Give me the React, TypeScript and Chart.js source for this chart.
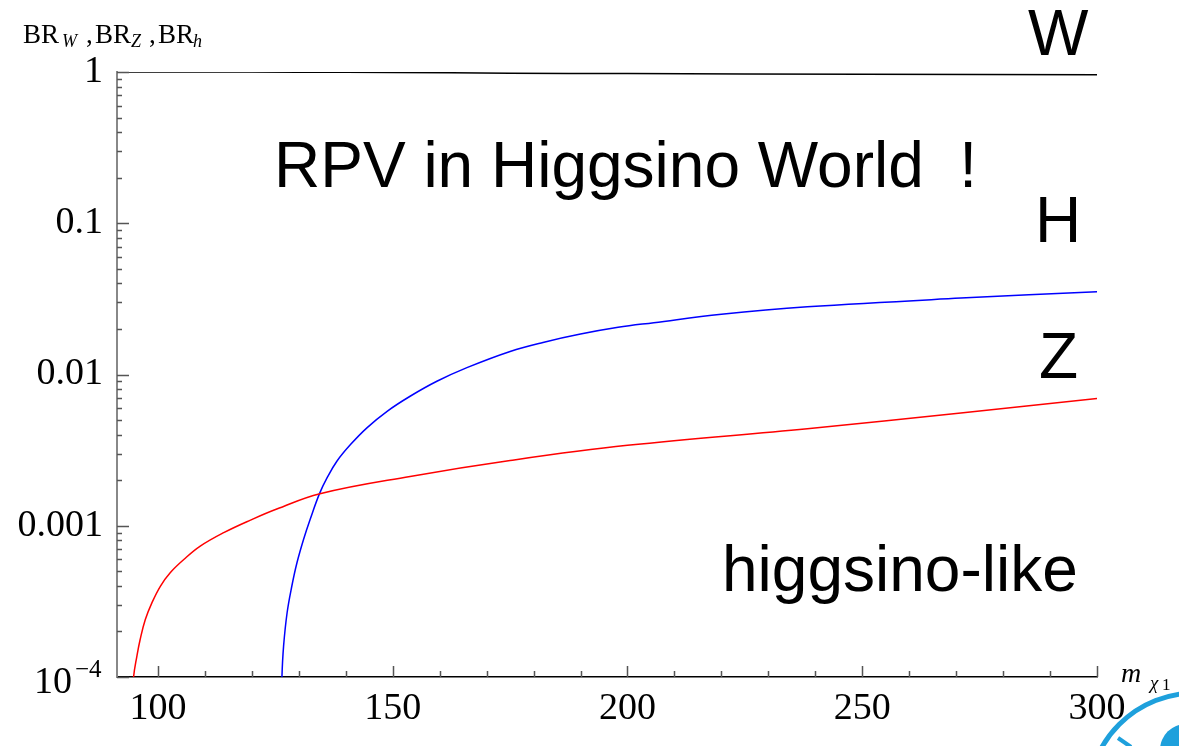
import { useEffect, useRef } from 'react';
import { Chart, registerables } from 'chart.js';

Chart.register(...registerables);

// ---- data ----
const zMass = [93.5, 94.8, 95.5, 96.2, 97.3, 98.7, 100.5, 102.6, 105.5, 109.0, 114.0, 119.7, 125.3, 134.5, 153.7, 175.0, 200.0, 238.3, 271.0, 300.0];
const zBR = [3.0e-5, 1.0e-4, 1.37e-4, 1.77e-4, 2.4e-4, 3.09e-4, 3.98e-4, 4.89e-4, 5.98e-4, 7.33e-4, 9.0e-4, 1.09e-3, 1.29e-3, 1.63e-3, 2.12e-3, 2.7e-3, 3.4e-3, 4.38e-3, 5.56e-3, 6.94e-3];

const hMass = [126.0, 126.4, 126.75, 127.5, 128.5, 129.6, 131.0, 132.4, 134.4, 136.0, 138.1, 141.0, 144.5, 148.8, 153.7, 159.4, 165.8, 175.0, 182.0, 190.0, 198.0, 205.6, 220.0, 238.3, 271.0, 300.0];
const hBR = [3.0e-5, 1.0e-4, 1.6e-4, 2.66e-4, 3.98e-4, 5.69e-4, 8.11e-4, 1.1e-3, 1.63e-3, 2.07e-3, 2.67e-3, 3.44e-3, 4.44e-3, 5.71e-3, 7.18e-3, 9.02e-3, 1.11e-2, 1.42e-2, 1.63e-2, 1.85e-2, 2.05e-2, 2.2e-2, 2.5e-2, 2.8e-2, 3.2e-2, 3.53e-2];

const wMass = [91.3, 110, 130, 150, 175, 200, 250, 300];
const wBR = [1.0, 0.9995, 0.998, 0.991, 0.983, 0.976, 0.966, 0.958];

const xMajorTicks = [100, 150, 200, 250, 300];
const xMinorTicks = [110, 120, 130, 140, 160, 170, 180, 190, 210, 220, 230, 240, 260, 270, 280, 290];
const yMajorTicks = [1e-4, 1e-3, 1e-2, 1e-1, 1];
const yTickLabels = ['', '0.001', '0.01', '0.1', '1'];
const yMinorFactors = [2, 3, 4, 5, 6, 7, 8, 9];

const X_MIN = 91.27;
const X_MAX = 300;
const Y_MIN = 1e-4;
const Y_MAX = 1;

const SERIF = '"Liberation Serif", "DejaVu Serif", serif';
const SANS = '"Liberation Sans", Arial, sans-serif';

function pts(xs: number[], ys: number[]) {
  return xs.map((x, i) => ({ x, y: ys[i] }));
}

const decorPlugin = {
  id: 'decor',
  afterDraw(chart: any) {
    const { ctx, chartArea, scales } = chart;
    const xs = scales.x;
    const ys = scales.y;
    ctx.save();

    // inward tick marks
    ctx.strokeStyle = '#555';
    ctx.lineWidth = 1.5;
    ctx.beginPath();
    xMajorTicks.forEach((v) => {
      const px = Math.round(xs.getPixelForValue(v)) + 0.5;
      ctx.moveTo(px, chartArea.bottom);
      ctx.lineTo(px, chartArea.bottom - 11);
    });
    xMinorTicks.forEach((v) => {
      const px = Math.round(xs.getPixelForValue(v)) + 0.5;
      ctx.moveTo(px, chartArea.bottom);
      ctx.lineTo(px, chartArea.bottom - 6);
    });
    yMajorTicks.forEach((v) => {
      const py = Math.round(ys.getPixelForValue(v)) + 0.5;
      ctx.moveTo(chartArea.left, py);
      ctx.lineTo(chartArea.left + 12, py);
    });
    for (let i = 0; i < yMajorTicks.length - 1; i++) {
      yMinorFactors.forEach((f) => {
        const py = Math.round(ys.getPixelForValue(yMajorTicks[i] * f)) + 0.5;
        ctx.moveTo(chartArea.left, py);
        ctx.lineTo(chartArea.left + 5, py);
      });
    }
    ctx.stroke();

    ctx.fillStyle = '#000';
    ctx.textBaseline = 'alphabetic';
    ctx.textAlign = 'left';

    // 10^-4 label
    const p4 = ys.getPixelForValue(1e-4);
    ctx.font = `38px ${SERIF}`;
    ctx.fillText('10', 34, p4 + 16);
    ctx.font = `25px ${SERIF}`;
    ctx.fillText('\u22124', 75, p4);

    // y-axis title BR_W ,BR_Z ,BR_h
    const base = 43;
    const put = (t: string, x: number, font: string, dy: number) => {
      ctx.font = font;
      ctx.fillText(t, x, base + dy);
    };
    const big = `27px ${SERIF}`;
    const sub = `italic 18px ${SERIF}`;
    put('BR', 23, big, 0);
    put('W', 62, sub, 4);
    put(',', 86, big, 0);
    put('BR', 95, big, 0);
    put('Z', 131, sub, 4);
    put(',', 149, big, 0);
    put('BR', 158, big, 0);
    put('h', 193, sub, 4);

    // x-axis title m_chi1
    ctx.font = `italic 28px ${SERIF}`;
    ctx.fillText('m', 1121, 682);
    ctx.font = `italic 19px ${SERIF}`;
    ctx.fillText('\u03c7', 1150, 689);
    ctx.font = `17px ${SERIF}`;
    ctx.fillText('1', 1162, 690);

    // annotations
    ctx.font = `64px ${SANS}`;
    ctx.fillText('RPV in Higgsino World  !', 274, 187);
    ctx.fillText('W', 1028, 55);
    ctx.fillText('H', 1035, 242);
    ctx.fillText('Z', 1039, 378);
    ctx.fillText('higgsino-like', 722, 591);

    // corner logo fragment
    ctx.strokeStyle = '#1ea0dc';
    ctx.fillStyle = '#1ea0dc';
    ctx.lineWidth = 5;
    ctx.beginPath();
    ctx.arc(1195, 800, 107, 0, Math.PI * 2);
    ctx.stroke();
    ctx.beginPath();
    ctx.arc(1186, 750, 26, 0, Math.PI * 2);
    ctx.fill();
    ctx.lineWidth = 4;
    ctx.beginPath();
    ctx.moveTo(1118, 738);
    ctx.lineTo(1131, 747);
    ctx.stroke();

    ctx.restore();
  },
};

export default function App() {
  const ref = useRef<HTMLCanvasElement | null>(null);

  useEffect(() => {
    document.body.style.margin = '0';
    const canvas = ref.current;
    if (!canvas) return;
    const chart = new Chart(canvas, {
      type: 'scatter',
      data: {
        datasets: [
          {
            label: 'W',
            data: pts(wMass, wBR),
            showLine: true,
            borderColor: '#000000',
            borderWidth: 1.5,
            pointRadius: 0,
            tension: 0.4,
          },
          {
            label: 'Z',
            data: pts(zMass, zBR),
            showLine: true,
            borderColor: '#ff0000',
            borderWidth: 1.5,
            pointRadius: 0,
            tension: 0.4,
          },
          {
            label: 'H',
            data: pts(hMass, hBR),
            showLine: true,
            borderColor: '#0000ff',
            borderWidth: 1.5,
            pointRadius: 0,
            tension: 0.4,
          },
        ],
      } as any,
      options: {
        animation: false,
        responsive: false,
        devicePixelRatio: 1,
        layout: { padding: { top: 72, right: 82, left: 0, bottom: 0 } },
        plugins: { legend: { display: false }, tooltip: { enabled: false } },
        scales: {
          x: {
            type: 'linear',
            min: X_MIN,
            max: X_MAX,
            grid: { display: false, drawTicks: false },
            border: { display: true, color: '#000', width: 1.5 },
            afterFit: (s: any) => {
              s.height = 69;
            },
            afterBuildTicks: (s: any) => {
              s.ticks = xMajorTicks.map((v) => ({ value: v }));
            },
            ticks: {
              autoSkip: false,
              maxRotation: 0,
              padding: 9,
              color: '#000',
              font: { family: SERIF, size: 38 },
              callback: (v: any) => String(v),
            },
          },
          y: {
            type: 'logarithmic',
            min: Y_MIN,
            max: Y_MAX,
            grid: { display: false, drawTicks: false },
            border: { display: true, color: '#888', width: 2 },
            afterFit: (s: any) => {
              s.width = 117;
            },
            afterBuildTicks: (s: any) => {
              s.ticks = yMajorTicks.map((v) => ({ value: v }));
            },
            ticks: {
              autoSkip: false,
              padding: 14,
              color: '#000',
              font: { family: SERIF, size: 38 },
              callback: (v: any) => {
                const i = yMajorTicks.findIndex((t) => Math.abs(t - v) / t < 1e-6);
                return i >= 0 ? yTickLabels[i] : '';
              },
            },
          },
        },
      } as any,
      plugins: [decorPlugin],
    });
    return () => chart.destroy();
  }, []);

  return <canvas ref={ref} width={1179} height={746} style={{ display: 'block' }} />;
}
